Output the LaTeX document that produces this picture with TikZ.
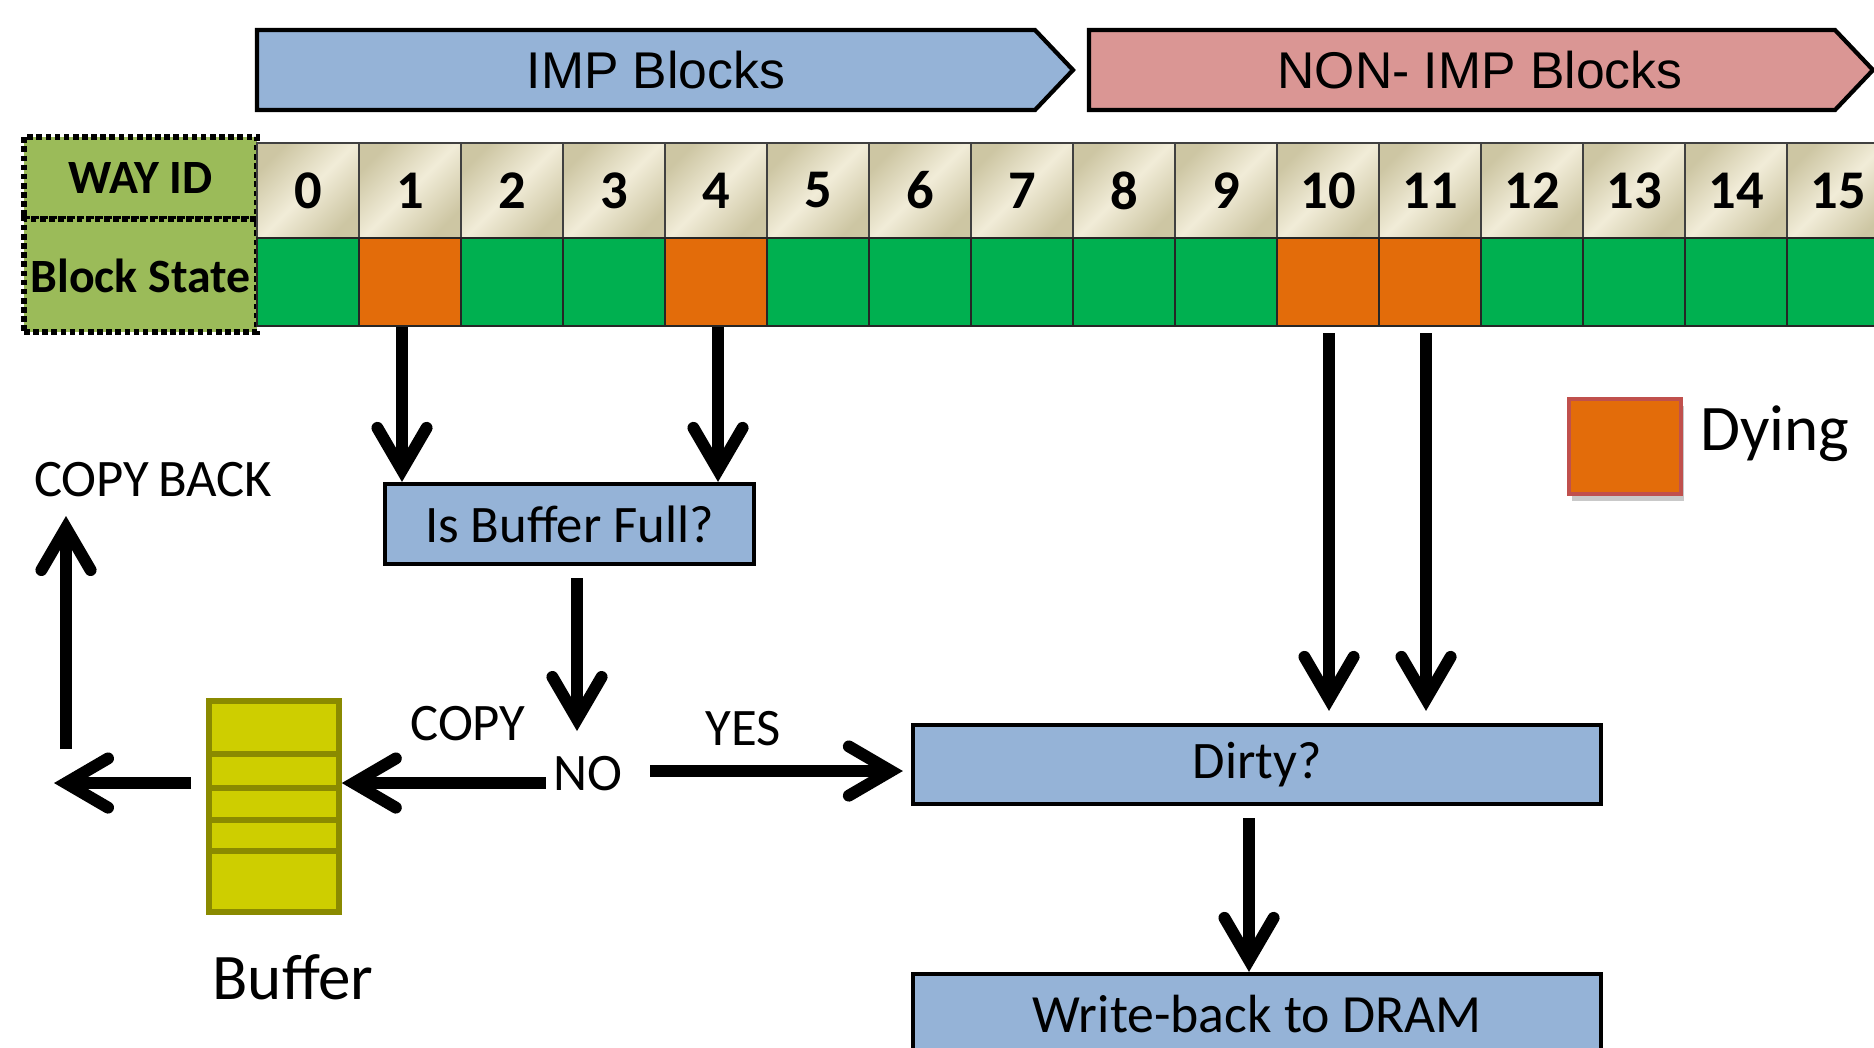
\documentclass[tikz,border=0pt]{standalone}
\usepackage{fontspec}
\setmainfont{Carlito}
\newfontfamily\arialfont{Liberation Sans}
\usetikzlibrary{arrows.meta}
\usetikzlibrary{shadows}

\definecolor{impblue}{RGB}{149,179,215}
\definecolor{nonpink}{RGB}{218,150,148}
\definecolor{waygreen}{RGB}{155,187,89}
\definecolor{livegreen}{RGB}{0,176,80}
\definecolor{dyingorange}{RGB}{227,108,10}
\definecolor{keyedge}{RGB}{192,80,77}
\definecolor{bufyellow}{RGB}{206,206,0}
\definecolor{bufedge}{RGB}{138,138,0}
\definecolor{beigeL}{RGB}{241,236,216}
\definecolor{beigeD}{RGB}{205,198,163}

\tikzset{
  banner/.style={draw, line width=1.2pt},
  waybox/.style={draw, densely dotted, line width=1.6pt, fill=waygreen, inner sep=0pt,
    minimum width=2.33cm, font=\fontsize{13.6}{16}\selectfont\bfseries},
  idcell/.style={draw=black!75, line width=0.8pt, inner sep=0pt, minimum width=1.02cm,
    minimum height=0.95cm, left color=beigeD, right color=beigeD, middle color=beigeL,
    shading angle=45, font=\fontsize{15.5}{18}\selectfont\bfseries},
  stcell/.style={draw=black!85, line width=0.8pt, inner sep=0pt, minimum width=1.02cm,
    minimum height=0.88cm},
  flowbox/.style={draw, line width=1.2pt, fill=impblue, inner sep=0pt},
  lbl/.style={inner sep=2pt, font=\fontsize{15}{18}\selectfont},
  arr/.style={line width=3.4pt, -{Straight Barb[length=12pt,width=14pt,line cap=round]}},
}

\begin{document}
\begin{tikzpicture}
  \useasboundingbox (0,0) rectangle (18.74,-10.47);
  \clip (0,0) rectangle (18.74,-10.47);

  \draw[banner, fill=impblue] (2.57,-0.30) -- (10.35,-0.30) -- (10.73,-0.70)
    -- (10.35,-1.10) -- (2.57,-1.10) -- cycle;
  \node[font=\arialfont\fontsize{14.7}{17}\selectfont] (imp) at (6.56,-0.70) {IMP Blocks};
  \draw[banner, fill=nonpink] (10.89,-0.30) -- (18.35,-0.30) -- (18.73,-0.70)
    -- (18.35,-1.10) -- (10.89,-1.10) -- cycle;
  \node[font=\arialfont\fontsize{14.7}{17}\selectfont] (nonimp) at (14.80,-0.70) {NON- IMP Blocks};

  \node[waybox, minimum height=0.82cm] (wayid) at (1.405,-1.78) {WAY ID};
  \node[waybox, minimum height=1.13cm] (state) at (1.405,-2.755) {Block State};

  \foreach \i/\c in {0/livegreen,1/dyingorange,2/livegreen,3/livegreen,
                     4/dyingorange,5/livegreen,6/livegreen,7/livegreen,
                     8/livegreen,9/livegreen,10/dyingorange,11/dyingorange,
                     12/livegreen,13/livegreen,14/livegreen,15/livegreen} {
    \node[idcell] (id\i) at ({3.08+1.02*\i},-1.905) {\i};
    \node[stcell, fill=\c] (st\i) at ({3.08+1.02*\i},-2.82) {};
  }

  \node[draw=keyedge, line width=1pt, fill=dyingorange, minimum width=1.12cm,
    minimum height=0.95cm, drop shadow={draw=none, fill=black!70, opacity=0.3,
    shadow xshift=0.03cm, shadow yshift=-0.07cm}]
    (dyingkey) at (16.25,-4.465) {};
  \node[lbl, font=\fontsize{18.5}{22}\selectfont] (dying) at (17.75,-4.34) {Dying};

  \node[flowbox, minimum width=3.69cm, minimum height=0.80cm, font=\fontsize{15}{18}\selectfont]
    (full) at (5.695,-5.24) {Is Buffer Full?};
  \node[flowbox, minimum width=6.88cm, minimum height=0.79cm, font=\fontsize{15}{18}\selectfont]
    (dirty) at (12.57,-7.645) {Dirty?};
  \node[flowbox, minimum width=6.88cm, minimum height=0.80cm, font=\fontsize{15.3}{18}\selectfont]
    (wb) at (12.57,-10.14) {Write-back to DRAM};

  \node[draw=bufedge, line width=1.6pt, fill=bufyellow, minimum width=1.30cm,
    minimum height=2.11cm] (buffer) at (2.74,-8.065) {};
  \foreach \y in {-7.54,-7.88,-8.20,-8.51}
    \draw[bufedge, line width=1.6pt] (buffer.west |- 0,\y) -- (buffer.east |- 0,\y);
  \node[lbl, font=\fontsize{18.5}{22}\selectfont] (buflabel) at (2.93,-9.77) {Buffer};

  \node[lbl] (copyback) at (1.53,-4.80) {COPY\,BACK};
  \node[lbl] (copy) at (4.68,-7.24) {COPY};
  \node[lbl] (no) at (5.88,-7.74) {NO};
  \node[lbl] (yes) at (7.43,-7.29) {YES};

  \coordinate (split) at (5.77,-7.31);
  \coordinate (cbturn) at (0.54,-7.83);
  \coordinate (cbfoot) at (0.66,-7.49);
  \coordinate (cbtip) at (0.66,-5.16);

  \draw[arr] ([xshift=-0.08cm]st1.south) -- ([xshift=-0.08cm]st1.south |- full.north);
  \draw[arr] ([xshift=0.02cm]st4.south) -- ([xshift=0.02cm]st4.south |- full.north);
  \draw[arr, shorten <=0.06cm, shorten >=0.12cm] ([xshift=0.01cm]st10.south)
    -- ([xshift=0.01cm]st10.south |- dirty.north);
  \draw[arr, shorten <=0.06cm, shorten >=0.12cm] ([xshift=-0.04cm]st11.south)
    -- ([xshift=-0.04cm]st11.south |- dirty.north);
  \draw[arr, shorten <=0.12cm] (full.south -| split) -- (split);
  \draw[arr] ([yshift=-0.09cm]no.west) -- ([yshift=-0.09cm]no.west -| buffer.east);
  \draw[arr, shorten <=0.2cm, shorten >=0.08cm] ([yshift=0.03cm]no.east)
    -- ([yshift=0.03cm]no.east -| dirty.west);
  \draw[arr, shorten <=0.15cm] (buffer.west |- cbturn) -- (cbturn);
  \draw[arr] (cbfoot) -- (cbtip);
  \draw[arr, shorten <=0.12cm] ([xshift=-0.08cm]dirty.south) -- ([xshift=-0.08cm]wb.north);
\end{tikzpicture}
\end{document}
